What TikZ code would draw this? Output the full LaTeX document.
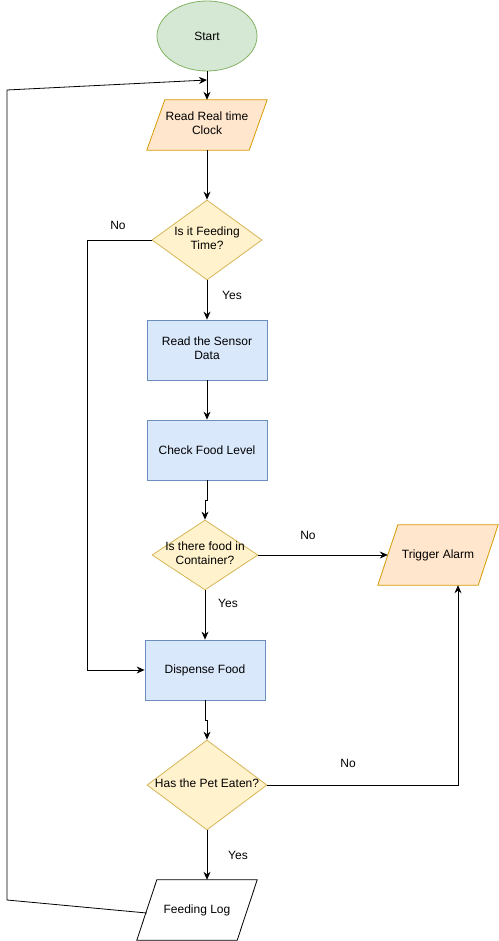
\documentclass[tikz,border=0pt]{standalone}
\usepackage{fontspec}
\setmainfont{Liberation Sans}
\usetikzlibrary{arrows.meta, shapes.geometric, backgrounds}
\definecolor{dgreen}{HTML}{D5E8D4}
\definecolor{dgreenline}{HTML}{82B366}
\definecolor{dorange}{HTML}{FFE6CC}
\definecolor{dorangeline}{HTML}{D79B00}
\definecolor{dyellow}{HTML}{FFF2CC}
\definecolor{dyellowline}{HTML}{D6B656}
\definecolor{dblue}{HTML}{DAE8FC}
\definecolor{dblueline}{HTML}{6C8EBF}
\newcommand{\boxtxt}[1]{\makebox[0pt]{\begin{tabular}{@{}c@{}}#1\end{tabular}}}

\begin{document}
\begin{tikzpicture}[x=1pt, y=-1pt,
  every node/.style={font=\fontsize{12}{14}\selectfont},
  terminal/.style={ellipse, draw=dgreenline, fill=dgreen, line width=0.8pt, minimum width=100pt, minimum height=70pt, inner sep=0pt},
  iobox/.style={rectangle, minimum width=120pt, minimum height=60pt, inner sep=0pt},
  ioshape/.style={draw=dorangeline, fill=dorange, line width=0.8pt},
  procbox/.style={rectangle, draw=dblueline, fill=dblue, line width=0.8pt, minimum width=120pt, minimum height=60pt},
  decision/.style={diamond, draw=dyellowline, fill=dyellow, line width=0.8pt, inner sep=0pt},
  flow/.style={-{Stealth[length=8pt, width=7pt]}, line width=0.8pt}]
  \useasboundingbox (0,0) rectangle (498,941);

  % Shapes
  \node[terminal] (start) at (207,36) {Start};
  \node[iobox, minimum height=50pt] (clock) at (207,125) {\boxtxt{Read Real time\\Clock}};
  \node[decision, minimum width=110pt, minimum height=80pt] (feedtime) at (207,240) {\boxtxt{Is it Feeding\\Time?}};
  \node[procbox] (sensor) at (207,350) {\boxtxt{Read the Sensor\\Data}};
  \node[procbox] (level) at (207,450) {Check Food Level};
  \node[decision, minimum width=106pt, minimum height=70pt] (hasfood) at (205,555) {\boxtxt{Is there food in\\Container?}};
  \node[iobox] (alarm) at (438,555) {Trigger Alarm};
  \node[procbox] (dispense) at (205,670) {Dispense Food};
  \node[decision, minimum width=120pt, minimum height=90pt] (eaten) at (207,785) {\boxtxt{Has the Pet Eaten?}};
  \node[iobox] (log) at (197,910) {Feeding Log};
  \coordinate (loopin) at (207,80);

  % parallelograms behind the io nodes
  \begin{scope}[on background layer]
    \filldraw[ioshape] ([xshift=18pt]clock.north west) -- (clock.north east)
      -- ([xshift=-18pt]clock.south east) -- (clock.south west) -- cycle;
    \filldraw[ioshape] ([xshift=20pt]alarm.north west) -- (alarm.north east)
      -- ([xshift=-20pt]alarm.south east) -- (alarm.south west) -- cycle;
    \filldraw[ioshape, draw=black, fill=white] ([xshift=20pt]log.north west) -- (log.north east)
      -- ([xshift=-20pt]log.south east) -- (log.south west) -- cycle;
  \end{scope}

  % Connectors
  \draw[flow] (start) -- (clock);
  \draw[flow] (clock) -- (feedtime);
  \draw[flow] (feedtime.west) -- ++(-64,0) |- (dispense.west);
  \draw[flow] (feedtime) -- (sensor);
  \draw[flow] (sensor) -- (level);
  \draw[flow] (level.south) -- ++(0,20) -| (hasfood.north);
  \draw[flow] (hasfood) -- ([xshift=10pt]alarm.west);
  \draw[flow] (hasfood) -- (dispense);
  \draw[flow] (dispense.south) -- ++(0,20) -| (eaten.north);
  \draw[flow] (eaten.east) -| ([xshift=20pt]alarm.south);
  \draw[flow] (eaten.south) -- (eaten.south |- log.north);
  \draw[flow] ([xshift=10pt, yshift=-3pt]log.west) -- (7,900) -- (7,90) -- (loopin);

  % Labels
  \node (no1) at (118,225) {No};
  \node (yes1) at (232,295) {Yes};
  \node (no2) at (308,535) {No};
  \node (yes2) at (228,603) {Yes};
  \node (no3) at (348,763) {No};
  \node (yes3) at (238,855) {Yes};
\end{tikzpicture}
\end{document}
